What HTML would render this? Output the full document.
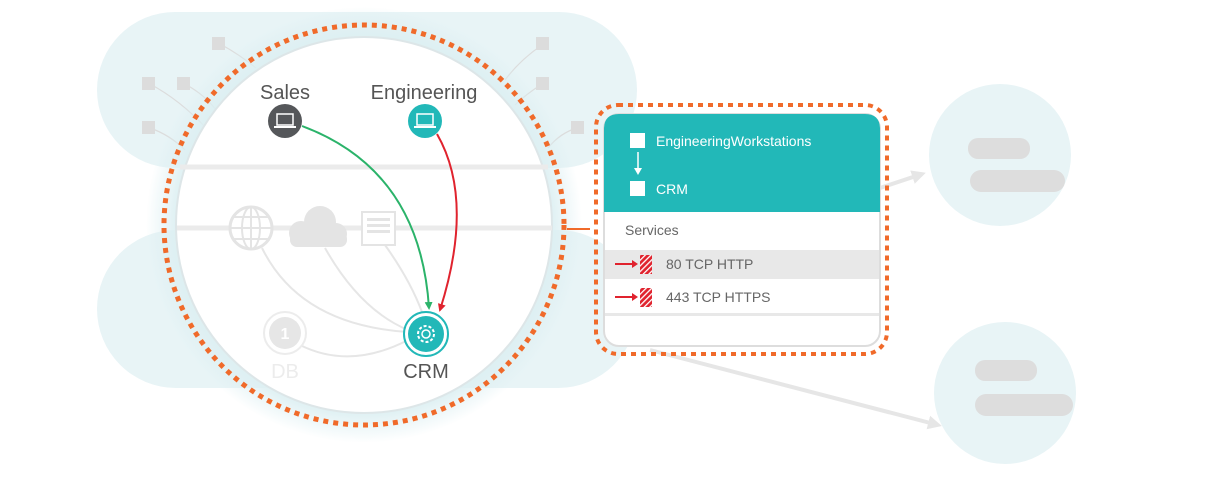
<!DOCTYPE html>
<html><head><meta charset="utf-8"><style>
body{margin:0;width:1211px;height:480px;overflow:hidden;background:#fff;font-family:"Liberation Sans",sans-serif}
</style></head><body>
<svg width="1211" height="480" viewBox="0 0 1211 480" xmlns="http://www.w3.org/2000/svg" font-family="Liberation Sans, sans-serif">
<defs>
<radialGradient id="halo" cx="0.5" cy="0.5" r="0.5">
<stop offset="0.85" stop-color="#dceff2"/><stop offset="1" stop-color="#dceff2" stop-opacity="0"/>
</radialGradient>
<marker id="ag" markerWidth="8" markerHeight="8" refX="6" refY="4" orient="auto" markerUnits="userSpaceOnUse"><path d="M0,0 L8,4 L0,8z" fill="#2bb36a"/></marker>
<marker id="ar" markerWidth="8" markerHeight="8" refX="6" refY="4" orient="auto" markerUnits="userSpaceOnUse"><path d="M0,0 L8,4 L0,8z" fill="#e0232e"/></marker>
<marker id="agr" markerWidth="14" markerHeight="14" refX="10" refY="7" orient="auto" markerUnits="userSpaceOnUse"><path d="M0,0 L14,7 L0,14z" fill="#e6e6e6"/></marker>
<pattern id="hatch" width="4" height="4" patternUnits="userSpaceOnUse" patternTransform="rotate(45)"><rect width="4" height="4" fill="#e0232e"/><rect width="1.3" height="4" fill="#fff"/></pattern>
</defs>
<rect x="97" y="12" width="540" height="156" rx="78" fill="#e8f4f6"/>
<rect x="97" y="230" width="540" height="158" rx="79" fill="#e8f4f6"/>
<circle cx="1000" cy="155" r="71" fill="#e8f4f6"/>
<circle cx="1005" cy="393" r="71" fill="#e8f4f6"/>
<rect x="968" y="138" width="62" height="21" rx="10" fill="#ddd"/>
<rect x="970" y="170" width="95" height="22" rx="11" fill="#ddd"/>
<rect x="975" y="360" width="62" height="21" rx="10" fill="#ddd"/>
<rect x="975" y="394" width="98" height="22" rx="11" fill="#ddd"/>
<path d="M880,188 L922,174" stroke="#e6e6e6" stroke-width="4" marker-end="url(#agr)"/>
<path d="M650,350 L938,425" stroke="#e6e6e6" stroke-width="4" marker-end="url(#agr)"/>
<g fill="#dcdcdc" stroke="none">
<rect x="212" y="37" width="13" height="13"/><rect x="142" y="77" width="13" height="13"/><rect x="177" y="77" width="13" height="13"/><rect x="142" y="121" width="13" height="13"/>
<rect x="536" y="37" width="13" height="13"/><rect x="536" y="77" width="13" height="13"/><rect x="571" y="121" width="13" height="13"/>
</g>
<g stroke="#dcdcdc" stroke-width="1.2" fill="none">
<path d="M222,45 Q240,55 256,68"/><path d="M150,84 Q180,100 206,128"/><path d="M185,84 Q205,95 216,110"/><path d="M150,128 Q170,135 185,150"/>
<path d="M542,45 Q520,60 505,80"/><path d="M542,84 Q525,95 515,105"/><path d="M577,128 Q560,133 548,148"/>
</g>
<circle cx="364" cy="225" r="218" fill="url(#halo)"/>
<circle cx="364" cy="225" r="188" fill="#fff" stroke="#dde6e8" stroke-width="2"/>
<circle cx="364" cy="225" r="200" fill="none" stroke="#f06a2a" stroke-width="5" stroke-dasharray="5,5"/>
<line x1="180" y1="167" x2="548" y2="167" stroke="#ebebeb" stroke-width="5"/>
<line x1="177" y1="228" x2="552" y2="228" stroke="#ebebeb" stroke-width="5"/>
<line x1="567" y1="229" x2="590" y2="229" stroke="#f06a2a" stroke-width="2"/>
<g stroke="#e6e6e6" stroke-width="2" fill="none">
<path d="M262,248 Q300,325 408,332"/><path d="M325,248 Q360,310 408,330"/><path d="M385,245 Q410,280 422,312"/><path d="M300,345 Q350,370 408,340"/>
</g>
<g stroke="#e4e4e4" stroke-width="3" fill="#fff"><circle cx="251" cy="228" r="21"/></g>
<g stroke="#e4e4e4" stroke-width="2" fill="none"><ellipse cx="251" cy="228" rx="9" ry="21"/><line x1="230" y1="228" x2="272" y2="228"/><line x1="234" y1="217" x2="268" y2="217"/><line x1="234" y1="239" x2="268" y2="239"/><line x1="251" y1="207" x2="251" y2="249"/></g>
<g fill="#e4e4e4"><circle cx="320" cy="222" r="16"/><circle cx="301" cy="233" r="12"/><circle cx="336" cy="234" r="11"/><rect x="290" y="232" width="57" height="15" rx="7"/></g>
<rect x="362" y="212" width="33" height="33" fill="#fff" stroke="#e4e4e4" stroke-width="2"/>
<g fill="#e4e4e4"><rect x="367" y="218" width="23" height="3"/><rect x="367" y="224" width="23" height="3"/><rect x="367" y="230" width="23" height="3"/></g>
<circle cx="285" cy="333" r="21" fill="#fff" stroke="#ececec" stroke-width="2"/>
<circle cx="285" cy="333" r="16" fill="#e6e6e6"/>
<text x="285" y="339" font-size="16" fill="#fff" text-anchor="middle" font-weight="bold">1</text>
<text x="285" y="378" font-size="20" fill="#ececec" text-anchor="middle">DB</text>
<circle cx="426" cy="334" r="22" fill="#fff" stroke="#22b8b8" stroke-width="2"/>
<circle cx="426" cy="334" r="18" fill="#22b8b8"/>
<circle cx="426" cy="334" r="8" fill="none" stroke="#fff" stroke-width="2" stroke-dasharray="3,2"/>
<circle cx="426" cy="334" r="4" fill="none" stroke="#fff" stroke-width="1.5"/>
<text x="426" y="378" font-size="20" fill="#555" text-anchor="middle">CRM</text>
<circle cx="285" cy="121" r="17" fill="#55575a"/>
<rect x="277" y="114" width="16" height="11" fill="none" stroke="#fff" stroke-width="1.5"/><line x1="274" y1="127" x2="296" y2="127" stroke="#fff" stroke-width="2"/>
<circle cx="425" cy="121" r="17" fill="#22b8b8"/>
<rect x="417" y="114" width="16" height="11" fill="none" stroke="#fff" stroke-width="1.5"/><line x1="414" y1="127" x2="436" y2="127" stroke="#fff" stroke-width="2"/>
<text x="285" y="99" font-size="20" fill="#555" text-anchor="middle">Sales</text>
<text x="424" y="99" font-size="20" fill="#555" text-anchor="middle">Engineering</text>
<path d="M302,126 Q420,170 429,308" stroke="#2bb36a" stroke-width="2" fill="none" marker-end="url(#ag)"/>
<path d="M437,134 Q475,200 440,310" stroke="#e0232e" stroke-width="2" fill="none" marker-end="url(#ar)"/>
<rect x="596" y="105" width="291" height="249" rx="22" fill="none" stroke="#f06a2a" stroke-width="4" stroke-dasharray="5,5"/>
<rect x="604" y="114" width="276" height="232" rx="15" fill="#fff" stroke="#ddd" stroke-width="2"/>
<path d="M604,212 L604,129 Q604,114 619,114 L865,114 Q880,114 880,129 L880,212z" fill="#22b8b8"/>
<rect x="630" y="133" width="15" height="15" fill="#fff"/>
<rect x="630" y="181" width="15" height="15" fill="#fff"/>
<line x1="638" y1="152" x2="638" y2="170" stroke="#fff" stroke-width="1.5"/><path d="M634,168 L638,175 L642,168z" fill="#fff"/>
<text x="656" y="146" font-size="14" fill="#fff">EngineeringWorkstations</text>
<text x="656" y="194" font-size="14" fill="#fff">CRM</text>
<text x="625" y="235" font-size="14" fill="#666">Services</text>
<rect x="605" y="250" width="274" height="29" fill="#e8e8e8"/>
<rect x="605" y="313" width="274" height="3" fill="#e8e8e8"/>
<line x1="615" y1="264" x2="634" y2="264" stroke="#e0232e" stroke-width="2"/><path d="M632,260 L638,264 L632,268z" fill="#e0232e"/>
<rect x="640" y="255" width="12" height="19" fill="url(#hatch)"/>
<text x="666" y="269" font-size="14" fill="#666">80 TCP HTTP</text>
<line x1="615" y1="297" x2="634" y2="297" stroke="#e0232e" stroke-width="2"/><path d="M632,293 L638,297 L632,301z" fill="#e0232e"/>
<rect x="640" y="288" width="12" height="19" fill="url(#hatch)"/>
<text x="666" y="302" font-size="14" fill="#666">443 TCP HTTPS</text>
</svg>
</body></html>
